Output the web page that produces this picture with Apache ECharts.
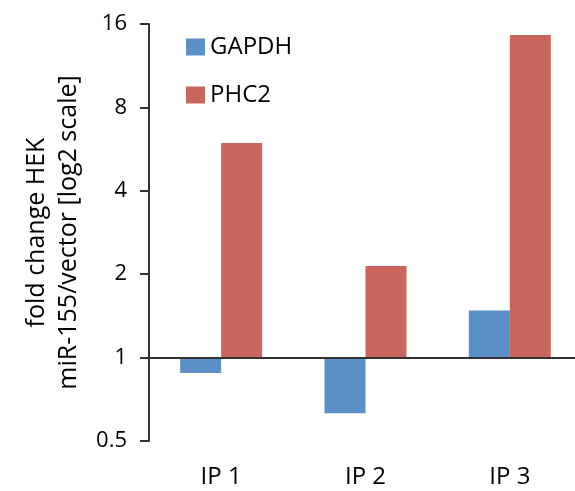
<!DOCTYPE html>
<html>
<head>
<meta charset="utf-8">
<script src="https://cdn.jsdelivr.net/npm/echarts@6/dist/echarts.min.js"></script>
<style>
  html, body { margin: 0; padding: 0; background: #fff; }
  #chart { width: 575px; height: 491px; }
</style>
</head>
<body>
<div id="chart"></div>
<script>
// 数据（倍数变化，log2 轴）
const categories = ['IP 1', 'IP 2', 'IP 3'];
const gapdhValues = [0.88, 0.63, 1.48];
const phc2Values = [5.95, 2.14, 14.6];
const yTickLabels = ['0.5', '1', '2', '4', '8', '16'];

const font = 'Open Sans';
const chart = echarts.init(document.getElementById('chart'));

const option = {
    animation: false,
    textStyle: { fontFamily: font },
    legend: {
        orient: 'vertical',
        left: 181,
        top: 30,
        icon: 'rect',
        itemWidth: 19,
        itemHeight: 17,
        itemGap: 24,
        textStyle: { fontSize: 24, color: '#000', fontFamily: font },
        data: ['GAPDH', 'PHC2']
    },
    grid: { left: 149, top: 24, width: 433, bottom: 50, outerBoundsMode: 'none', containLabel: false },
    xAxis: {
        type: 'category',
        data: categories,
        axisLine: { show: false },
        axisTick: { show: false },
        axisLabel: { fontSize: 24, color: '#000', margin: 24, fontFamily: font }
    },
    yAxis: {
        type: 'value',
        min: -1,
        max: 4,
        interval: 1,
        name: 'fold change HEK\nmiR-155/vector [log2 scale]',
        nameLocation: 'middle',
        nameRotate: 90,
        nameGap: 58,
        nameTextStyle: { fontSize: 25, color: '#000', lineHeight: 32, fontFamily: font },
        axisLine: { show: true, lineStyle: { color: '#333', width: 2 } },
        axisTick: { show: true, inside: false, length: 9, lineStyle: { color: '#333', width: 2 } },
        splitLine: { show: false },
        axisLabel: {
            fontSize: 22,
            color: '#000',
            margin: 22,
            fontFamily: font,
            formatter: v => yTickLabels[v + 1]
        }
    },
    series: [
        {
            name: 'GAPDH',
            type: 'bar',
            barWidth: 41,
            barGap: '0%',
            itemStyle: { color: '#5B90C6' },
            data: gapdhValues.map(v => Math.log2(v)),
            markLine: {
                silent: true,
                symbol: 'none',
                label: { show: false },
                lineStyle: { color: '#333', width: 2, type: 'solid' },
                data: [{ yAxis: 0 }]
            }
        },
        {
            name: 'PHC2',
            type: 'bar',
            barWidth: 41,
            barGap: '0%',
            itemStyle: { color: '#CA655C' },
            data: phc2Values.map(v => Math.log2(v))
        }
    ]
};

chart.setOption(option);
</script>
</body>
</html>
